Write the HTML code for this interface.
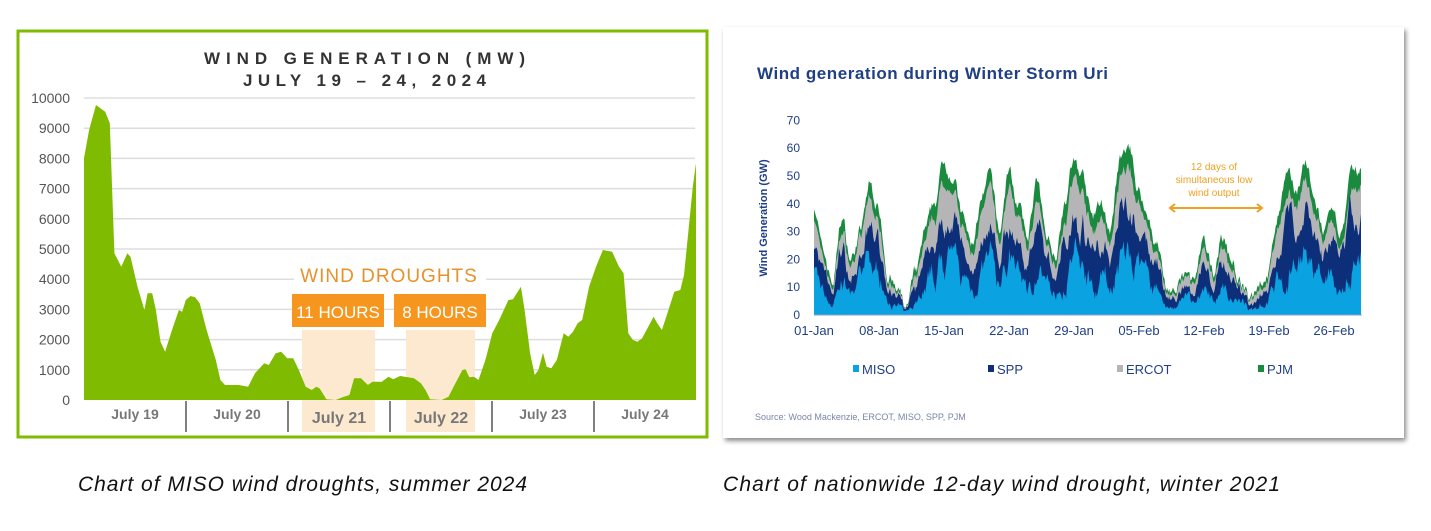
<!DOCTYPE html>
<html><head><meta charset="utf-8">
<style>
body{margin:0;width:1431px;height:531px;background:#fff;overflow:hidden;font-family:"Liberation Sans",sans-serif;}
svg{position:absolute;left:0;top:0}
</style></head><body>
<svg id="s" width="1431" height="531" xmlns="http://www.w3.org/2000/svg">
<defs><filter id="sh" x="-5%" y="-5%" width="110%" height="115%"><feDropShadow dx="2" dy="3" stdDeviation="2.5" flood-color="#000" flood-opacity="0.45"/></filter></defs>
<!-- LEFT -->
<rect x="18" y="31" width="689" height="406" fill="#fff" stroke="#7fbb00" stroke-width="3"/>
<text x="204" y="64" textLength="321" font-size="17" font-weight="bold" fill="#333">WIND GENERATION (MW)</text>
<text x="243" y="86" textLength="243" font-size="17" font-weight="bold" fill="#333">JULY 19 – 24, 2024</text>
<g id="lgrid" stroke="#ddd" stroke-width="1.5"></g>
<g id="lylab" font-size="14" fill="#555" text-anchor="end"></g>
<rect x="302" y="330" width="73" height="102" fill="#fde9cf"/>
<rect x="406" y="330" width="69" height="102" fill="#fde9cf"/>
<path id="lpath" fill="#7fbb00"/>
<rect x="294" y="263" width="192" height="22" fill="#fff"/>
<text x="389" y="282" text-anchor="middle" font-size="19" fill="#e8912a" letter-spacing="1">WIND DROUGHTS</text>
<rect x="292" y="294" width="92" height="33" fill="#f7961e"/>
<rect x="394" y="294" width="92" height="33" fill="#f7961e"/>
<text x="338" y="318" text-anchor="middle" font-size="17" fill="#fff">11 HOURS</text>
<text x="440" y="318" text-anchor="middle" font-size="17" fill="#fff">8 HOURS</text>
<g stroke="#555" stroke-width="1.5"><line x1="186" y1="401" x2="186" y2="432"/><line x1="288" y1="401" x2="288" y2="432"/><line x1="390" y1="401" x2="390" y2="432"/><line x1="492" y1="401" x2="492" y2="432"/><line x1="594" y1="401" x2="594" y2="432"/></g>
<g font-size="14" font-weight="bold" fill="#777" text-anchor="middle">
<text x="135" y="419">July 19</text><text x="237" y="419">July 20</text>
<text x="339" y="423" font-size="16">July 21</text><text x="441" y="423" font-size="16">July 22</text>
<text x="543" y="419">July 23</text><text x="645" y="419">July 24</text></g>
<!-- RIGHT -->
<rect x="723" y="27" width="681" height="411" fill="#fff" filter="url(#sh)"/>
<text x="757" y="79" textLength="351" font-size="17" font-weight="bold" fill="#1f3f86">Wind generation during Winter Storm Uri</text>
<g id="rylab" font-size="12" fill="#1f3f86" text-anchor="end"></g>
<text transform="translate(767,218) rotate(-90)" text-anchor="middle" font-size="11" font-weight="bold" fill="#1f3f86">Wind Generation (GW)</text>
<g id="rareas"></g>
<line x1="814" y1="315" x2="1362" y2="315" stroke="#8aa0c8" stroke-width="1"/>
<g id="rx" font-size="13" fill="#1f3f86" text-anchor="middle"></g>
<g font-size="10" fill="#f0a020" text-anchor="middle"><text x="1214" y="170">12 days of</text><text x="1214" y="183">simultaneous low</text><text x="1214" y="196">wind output</text></g>
<g stroke="#f0a020" stroke-width="2" fill="none"><line x1="1170" y1="208" x2="1262" y2="208"/><polyline points="1175,204 1170,208 1175,212"/><polyline points="1257,204 1262,208 1257,212"/></g>
<g font-size="13" fill="#1f3f86">
<rect x="853" y="365" width="6" height="7" fill="#0aa2e0"/><text x="862" y="374">MISO</text>
<rect x="988" y="365" width="6" height="7" fill="#0d2f7a"/><text x="997" y="374">SPP</text>
<rect x="1117" y="365" width="6" height="7" fill="#b5b5b8"/><text x="1126" y="374">ERCOT</text>
<rect x="1258" y="365" width="6" height="7" fill="#1a8a3e"/><text x="1267" y="374">PJM</text></g>
<text x="755" y="420" font-size="9" fill="#7a86a8">Source: Wood Mackenzie, ERCOT, MISO, SPP, PJM</text>
<!-- captions -->
<text x="78" y="491" textLength="449" font-size="21" font-style="italic" fill="#111">Chart of MISO wind droughts, summer 2024</text>
<text x="723" y="491" textLength="557" font-size="21" font-style="italic" fill="#111">Chart of nationwide 12-day wind drought, winter 2021</text>
</svg>
<script>
var NS="http://www.w3.org/2000/svg";
function el(t,a,p,txt){var e=document.createElementNS(NS,t);for(var k in a)e.setAttribute(k,a[k]);if(txt!=null)e.textContent=txt;p.appendChild(e);return e;}
var lg=document.getElementById('lgrid'),ll=document.getElementById('lylab');
for(var i=0;i<=10;i++){var y=400-i*30.2;if(i>0)el('line',{x1:84,x2:695,y1:y,y2:y},lg);el('text',{x:70,y:y+5},ll,String(i*1000));}
var Z=[[184,1140],[184,415],[195,330],[210,255],[230,275],[240,310],[250,700],[265,740],[278,700],[285,710],[300,800],[315,870],[322,820],[332,820],[340,870],[350,965],[360,995],[375,930],[390,870],[397,875],[405,840],[415,828],[425,832],[435,850],[450,930],[470,1020],[480,1080],[490,1095],[520,1095],[540,1100],[555,1060],[575,1030],[585,1035],[600,1000],[612,995],[625,1015],[638,1015],[650,1050],[665,1100],[678,1110],[688,1100],[695,1105],[710,1138],[730,1140],[745,1132],[760,1125],[770,1075],[785,1075],[800,1095],[810,1085],[830,1085],[845,1070],[855,1078],[870,1068],[900,1075],[915,1090],[925,1110],[935,1138],[960,1140],[975,1130],[990,1090],[1005,1050],[1012,1048],[1020,1072],[1030,1070],[1040,1080],[1055,1020],[1070,940],[1085,900],[1105,840],[1115,838],[1132,800],[1140,870],[1152,1000],[1162,1065],[1170,1050],[1180,998],[1188,1040],[1198,1045],[1210,1020],[1225,940],[1235,950],[1245,935],[1255,910],[1265,900],[1280,800],[1295,740],[1310,690],[1330,695],[1345,740],[1355,760],[1365,940],[1375,960],[1385,965],[1395,955],[1420,890],[1428,910],[1438,930],[1450,880],[1465,815],[1478,810],[1486,765],[1495,640],[1505,500],[1512,430],[1512,1140]];
document.getElementById('lpath').setAttribute('d','M'+Z.map(function(p){return (84+(p[0]-184)*612/1328).toFixed(1)+','+(20+p[1]/3).toFixed(1)}).join('L')+'Z');
var ry=document.getElementById('rylab');
for(var i=0;i<=7;i++){el('text',{x:800,y:315-i*27.8+4},ry,String(i*10));}
var rx=document.getElementById('rx'),labs=['01-Jan','08-Jan','15-Jan','22-Jan','29-Jan','05-Feb','12-Feb','19-Feb','26-Feb'];
for(var i=0;i<9;i++)el('text',{x:814+i*65,y:335},rx,labs[i]);
var K=[40,22,12,35,20,30,47,38,15,8,3,15,30,40,55,50,35,25,40,50,30,52,40,28,48,30,22,40,55,50,35,40,30,55,60,45,35,25,10,8,14,12,25,15,28,20,12,5,12,15,35,50,45,55,40,30,35,30,50,52];
var seed=7;function rnd(){seed=(seed*16807)%2147483647;return seed/2147483647;}
var N=590,tot=[],m=[],s=[],e=[],n1=0,n2=0,n3=0;
for(var j=0;j<=N;j++){var d=j/10,i0=Math.min(Math.floor(d),58),f=d-i0;f=f*f*(3-2*f);
var b=K[i0]*(1-f)+K[i0+1]*f;n1=n1*0.7+(rnd()-0.5)*4;n2=n2*0.8+(rnd()-0.5)*0.18;n3=n3*0.8+(rnd()-0.5)*0.15;
var t=Math.max(1,b+n1);tot.push(t);var mf=Math.min(0.6,Math.max(0.15,0.36+n2));var sf=Math.min(0.85,Math.max(mf+0.12,0.66+n3));
m.push(t*mf);s.push(t*sf);e.push(t*Math.min(0.95,0.87+n2*0.3));}
var W=(1361-814)/N;
function path(arr,col){var d='M814,315';for(var j=0;j<=N;j++)d+='L'+(814+j*W).toFixed(1)+','+(315-arr[j]*2.78).toFixed(1);d+='L1361,315Z';el('path',{d:d,fill:col},document.getElementById('rareas'));}
path(tot,'#1a8a3e');path(e,'#b5b5b8');path(s,'#0d2f7a');path(m,'#0aa2e0');
</script>
</body></html>
